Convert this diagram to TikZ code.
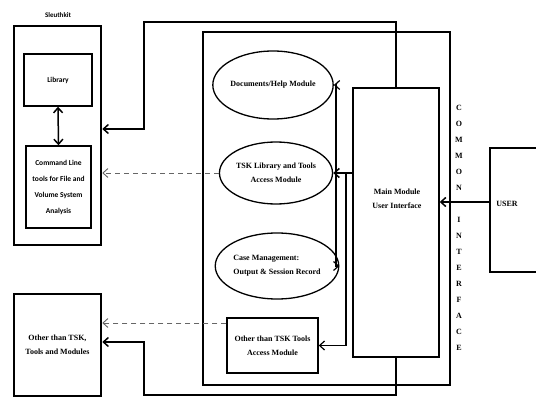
\documentclass[tikz,border=0pt]{standalone}
\usepackage{fontspec}
\setmainfont{Liberation Serif}
\newfontfamily\calfont{Carlito}
\usetikzlibrary{arrows.meta,shapes.geometric}

\begin{document}
\begin{tikzpicture}[x=1pt,y=-1pt,>={Straight Barb[length=5pt,width=9pt]},font=\bfseries\fontsize{8}{14}\selectfont,
 outer/.style={draw,line width=2.6pt,align=center,inner sep=0pt},
 blk/.style={draw,line width=1.4pt,align=center,inner sep=0pt},
 sans/.style={font=\calfont\bfseries\fontsize{7.5}{16}\selectfont},
 oval/.style={draw,ellipse,line width=1.3pt,align=center,inner sep=0pt},
 arr/.style={->,line width=1.5pt},
 thinarr/.style={->,line width=1.2pt},
 dsh/.style={->,dashed,line width=0.9pt,black!60,dash pattern=on 5pt off 4pt}]
\useasboundingbox (0,0) rectangle (536,398);
% sleuthkit side
\node[sans,font=\calfont\bfseries\fontsize{7}{8}\selectfont] (sktitle) at (58,15) {Sleuthkit};
\node[outer,minimum width=87,minimum height=219] (sleuth) at (57.5,135.5) {};
\node[blk,sans,minimum width=68,minimum height=52] (lib) at (58,80) {Library};
\node[blk,sans,minimum width=65,minimum height=82] (cmd) at (58.5,187) {Command Line\\tools for File and\\Volume System\\Analysis};
\node[outer,minimum width=87,minimum height=102] (other) at (57.5,345) {Other than TSK,\\Tools and Modules};
% tool modules
\node[outer,minimum width=247,minimum height=353] (frame) at (326.5,208.5) {};
\node[oval,minimum width=104,minimum height=68] (doc) at (273,85) {Documents/Help Module};
\node[oval,minimum width=103,minimum height=62] (tsk) at (276,173) {TSK Library and Tools\\Access Module};
\node[oval,minimum width=101,minimum height=66,align=left] (case) at (277,266) {Case Management:\\Output \& Session Record};
\node[blk,minimum width=91,minimum height=55] (othertsk) at (272.5,345.5) {Other than TSK Tools\\Access Module};
\node[blk,minimum width=86,minimum height=269] (main) at (396,222.5) {};
\node[align=center] (mainlbl) at (397,199) {Main Module\\User Interface};
\node[font=\bfseries\fontsize{8}{16}\selectfont,align=center] (common) at (459,228) {C\\O\\M\\M\\O\\N\\[16pt]I\\N\\T\\E\\R\\F\\A\\C\\E};
\node[outer,minimum width=48,minimum height=124] (user) at (514,210) {};
\node (userlbl) at (507,204) {USER};
% connectors
\draw[arr] (main.north) |- (144,22) |- ([yshift=6.5pt]sleuth.east);
\draw[arr] (main.south) |- (144,395) |- ([yshift=3pt]other.east);
\draw[arr] (main.west |- tsk) -- (tsk.east);
\coordinate (j1) at (336,173);
\coordinate (j2) at (346,173);
\draw[thinarr] (j1) |- (doc.east);
\draw[thinarr] (j1) |- (case.east);
\draw[thinarr] (j2) |- (othertsk.east);
\coordinate (uin) at (user.west |- 0,202);
\draw[arr] (uin) -- (main.east |- uin);
\draw[<->,line width=1.5pt] (lib.south) -- (cmd.north);
\draw[dsh] (tsk.west) -- (sleuth.east |- tsk.west);
\coordinate (od) at (othertsk.west |- 0,323);
\draw[dsh] (od) -- (other.east |- od);
\end{tikzpicture}
\end{document}
